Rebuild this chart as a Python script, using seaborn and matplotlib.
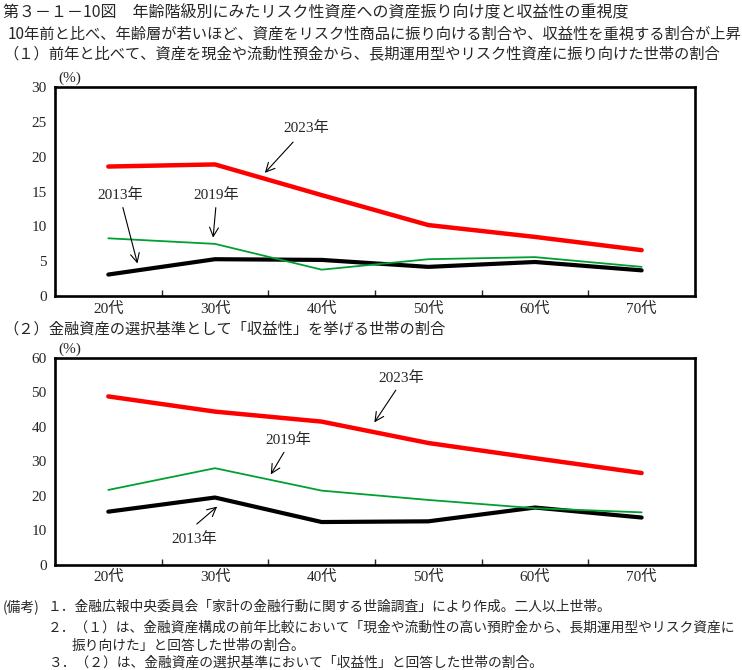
import pandas as pd
import numpy as np
import matplotlib.pyplot as plt
import seaborn as sns

ages = ['20代', '30代', '40代', '50代', '60代', '70代']
years = ['2013年', '2019年', '2023年']

# (1) share of households shifting to long-term / risk assets
p1_2013 = [3.1, 5.3, 5.2, 4.2, 4.9, 3.7]
p1_2019 = [8.3, 7.5, 3.8, 5.3, 5.6, 4.2]
p1_2023 = [18.6, 18.9, 14.5, 10.2, 8.5, 6.6]

# (2) share of households choosing "profitability"
p2_2013 = [15.4, 19.5, 12.4, 12.6, 16.6, 13.7]
p2_2019 = [21.7, 28.0, 21.5, 18.8, 16.4, 15.2]
p2_2023 = [48.8, 44.4, 41.5, 35.3, 30.9, 26.6]

sns.set_theme(style='white')
plt.rcParams['font.family'] = ['Noto Sans CJK JP', 'DejaVu Sans']
SERIF = ['Liberation Serif', 'Noto Sans CJK JP']

line_specs = {'2013年': {'color': 'black', 'lw': 3.0},
              '2019年': {'color': '#00a030', 'lw': 1.3},
              '2023年': {'color': '#ff0000', 'lw': 3.2}}

fig = plt.figure(figsize=(7.42, 6.70), dpi=100)
ax1 = fig.add_axes([0.0741, 0.558, 0.8625, 0.312])
ax2 = fig.add_axes([0.0741, 0.157, 0.8625, 0.309])


def draw_panel(ax, series, ymax, ystep, notes):
    df = pd.DataFrame({'age': ages * 3,
                       'year': np.repeat(years, len(ages)),
                       'value': np.concatenate(series)})
    for yr in years:
        sub = df[df.year == yr]
        sns.lineplot(data=sub, x='age', y='value', ax=ax, color=line_specs[yr]['color'],
                     linewidth=line_specs[yr]['lw'], sort=False, legend=False)
    ax.set_xlim(-0.5, 5.5)
    ax.set_ylim(0, ymax)
    ax.set_yticks(np.arange(0, ymax + 1, ystep))
    ax.set_xticks(range(len(ages)))
    ax.set_xticks(np.arange(0.5, 5, 1), minor=True)
    ax.set_xticklabels(ages, family=SERIF, fontsize=11)
    for lab in ax.get_yticklabels():
        lab.set_family(SERIF)
        lab.set_fontsize(11)
    ax.tick_params(axis='x', which='major', length=0, pad=4)
    ax.tick_params(axis='x', which='minor', direction='in', length=4, width=1,
                   bottom=True, labelbottom=False)
    ax.tick_params(axis='y', length=0, pad=6)
    ax.set(xlabel='', ylabel='')
    for sp in ax.spines.values():
        sp.set_visible(True)
        sp.set_color('black')
        sp.set_linewidth(1.9)
    ax.text(0.005, 1.01, '(%)', transform=ax.transAxes, family=SERIF, fontsize=11,
            ha='left', va='bottom')
    for label, txt_xy, tail, head in notes:
        ax.text(*txt_xy, label, family=SERIF, fontsize=11, ha='center', va='center')
        ax.annotate('', xy=head, xytext=tail,
                    arrowprops=dict(arrowstyle='->', color='black', lw=0.8,
                                    mutation_scale=16))


draw_panel(ax1, [p1_2013, p1_2019, p1_2023], 30, 5,
           [('2023年', (1.86, 24.1), (1.75, 22.4), (1.45, 17.4)),
            ('2013年', (0.11, 14.5), (0.13, 13.1), (0.28, 4.3)),
            ('2019年', (1.01, 14.5), (1.01, 13.1), (0.98, 8.0))])
draw_panel(ax2, [p2_2013, p2_2019, p2_2023], 60, 10,
           [('2023年', (2.75, 54.2), (2.71, 51.3), (2.48, 40.6)),
            ('2019年', (1.69, 36.2), (1.66, 33.3), (1.51, 25.5)),
            ('2013年', (0.81, 7.5), (0.81, 11.3), (1.04, 17.4))])

W, H = 742, 670


def ftext(x, y, s, size, **kw):
    fig.text(x / W, 1 - y / H, s, fontsize=size, ha='left', va='center', **kw)


ftext(3, 12, '第３－１－10図　年齢階級別にみたリスク性資産への資産振り向け度と収益性の重視度', 11.5)
ftext(8, 34, '10年前と比べ、年齢層が若いほど、資産をリスク性商品に振り向ける割合や、収益性を重視する割合が上昇', 11)
ftext(3, 54, '（１）前年と比べて、資産を現金や流動性預金から、長期運用型やリスク性資産に振り向けた世帯の割合', 11)
ftext(3, 329, '（２）金融資産の選択基準として「収益性」を挙げる世帯の割合', 11)

ftext(3, 607, '(備考)', 9.9)
ftext(48, 607, '１．金融広報中央委員会「家計の金融行動に関する世論調査」により作成。二人以上世帯。', 9.9)
ftext(48, 628, '２．（１）は、金融資産構成の前年比較において「現金や流動性の高い預貯金から、長期運用型やリスク資産に', 9.9)
ftext(72, 646, '振り向けた」と回答した世帯の割合。', 9.9)
ftext(48, 663, '３．（２）は、金融資産の選択基準において「収益性」と回答した世帯の割合。', 9.9)

fig.savefig('out.png', dpi=100)
